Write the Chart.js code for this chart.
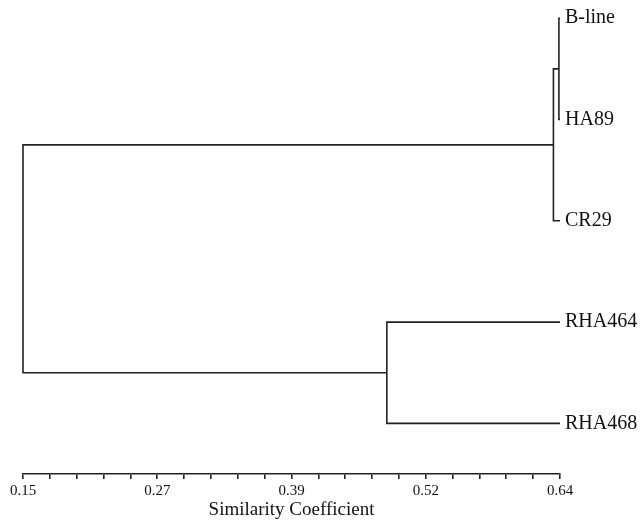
<!DOCTYPE html>
<html>
<head>
<meta charset="utf-8">
<script src="https://cdn.jsdelivr.net/npm/chart.js@4"></script>
<style>
  html, body { margin: 0; padding: 0; background: #fff; }
  #wrap { width: 642px; height: 520px; }
</style>
</head>
<body>
<div id="wrap"><canvas id="dendro"></canvas></div>
<script>
// leaves, top to bottom
var leaves = ['B-line', 'HA89', 'CR29', 'RHA464', 'RHA468'];
var leafSimilarity = 0.64;
// linkage: node ids 0-4 are leaves, 5+ are joins in this order
var joinLeft = [0, 5, 3, 6];
var joinRight = [1, 2, 4, 7];
var joinSimilarity = [0.639, 0.634, 0.482, 0.15];
var tickLabels = ['0.15', '0.27', '0.39', '0.52', '0.64'];
var axisMin = 0.15, axisMax = 0.64;

var serif = '"Liberation Serif", "Times New Roman", serif';
var ink = '#222';

var nodeX = [], nodeY = [];
for (var i = 0; i < leaves.length; i++) {
    nodeX.push(leafSimilarity);
    nodeY.push(i);
}

var datasets = [];
for (var j = 0; j < joinLeft.length; j++) {
    var a = joinLeft[j], b = joinRight[j], s = joinSimilarity[j];
    datasets.push({
        data: [
            {x: nodeX[a], y: nodeY[a]},
            {x: s, y: nodeY[a]},
            {x: s, y: nodeY[b]},
            {x: nodeX[b], y: nodeY[b]}
        ],
        showLine: true,
        clip: false,
        borderColor: ink,
        borderWidth: 1.6,
        pointRadius: 0,
        tension: 0,
        fill: false
    });
    nodeX.push(s);
    nodeY.push((nodeY[a] + nodeY[b]) / 2);
}

var ctx = document.getElementById('dendro');
var dendro = new Chart(ctx, {
    type: 'scatter',
    data: { datasets: datasets },
    options: {
        responsive: true,
        maintainAspectRatio: false,
        animation: false,
        layout: { padding: { left: 23, right: 0, top: 0, bottom: 0 } },
        plugins: {
            legend: { display: false },
            tooltip: { enabled: false }
        },
        scales: {
            x: {
                type: 'linear',
                position: 'bottom',
                min: axisMin,
                max: axisMax,
                afterBuildTicks: function(scale) {
                    var t = [];
                    for (var k = 0; k <= 20; k++) {
                        t.push({ value: axisMin + (axisMax - axisMin) * k / 20 });
                    }
                    scale.ticks = t;
                },
                afterFit: function(scale) {
                    scale.height = 46;
                    scale.paddingLeft = 0;
                },
                border: { display: true, color: ink, width: 1.6 },
                grid: {
                    drawOnChartArea: false,
                    drawTicks: true,
                    tickLength: 5,
                    color: ink,
                    lineWidth: 1.6
                },
                ticks: {
                    autoSkip: false,
                    maxRotation: 0,
                    padding: 3,
                    color: '#111',
                    font: { family: serif, size: 15 },
                    callback: function(v, idx) {
                        return idx % 5 === 0 ? tickLabels[idx / 5] : '';
                    }
                },
                title: {
                    display: true,
                    text: 'Similarity Coefficient',
                    color: '#111',
                    padding: 0,
                    font: { family: serif, size: 19, lineHeight: 1 }
                }
            },
            y: {
                type: 'linear',
                position: 'right',
                reverse: true,
                min: -0.18,
                max: 4.5,
                afterBuildTicks: function(scale) {
                    scale.ticks = leaves.map(function(n, k) { return { value: k }; });
                },
                afterFit: function(scale) {
                    scale.width = 82;
                    scale.paddingTop = 0;
                    scale.paddingBottom = 0;
                },
                border: { display: false },
                grid: { display: false, drawTicks: false },
                ticks: {
                    padding: 5,
                    color: '#111',
                    font: { family: serif, size: 20 },
                    callback: function(v, idx) { return leaves[idx]; }
                }
            }
        }
    }
});
</script>
</body>
</html>
